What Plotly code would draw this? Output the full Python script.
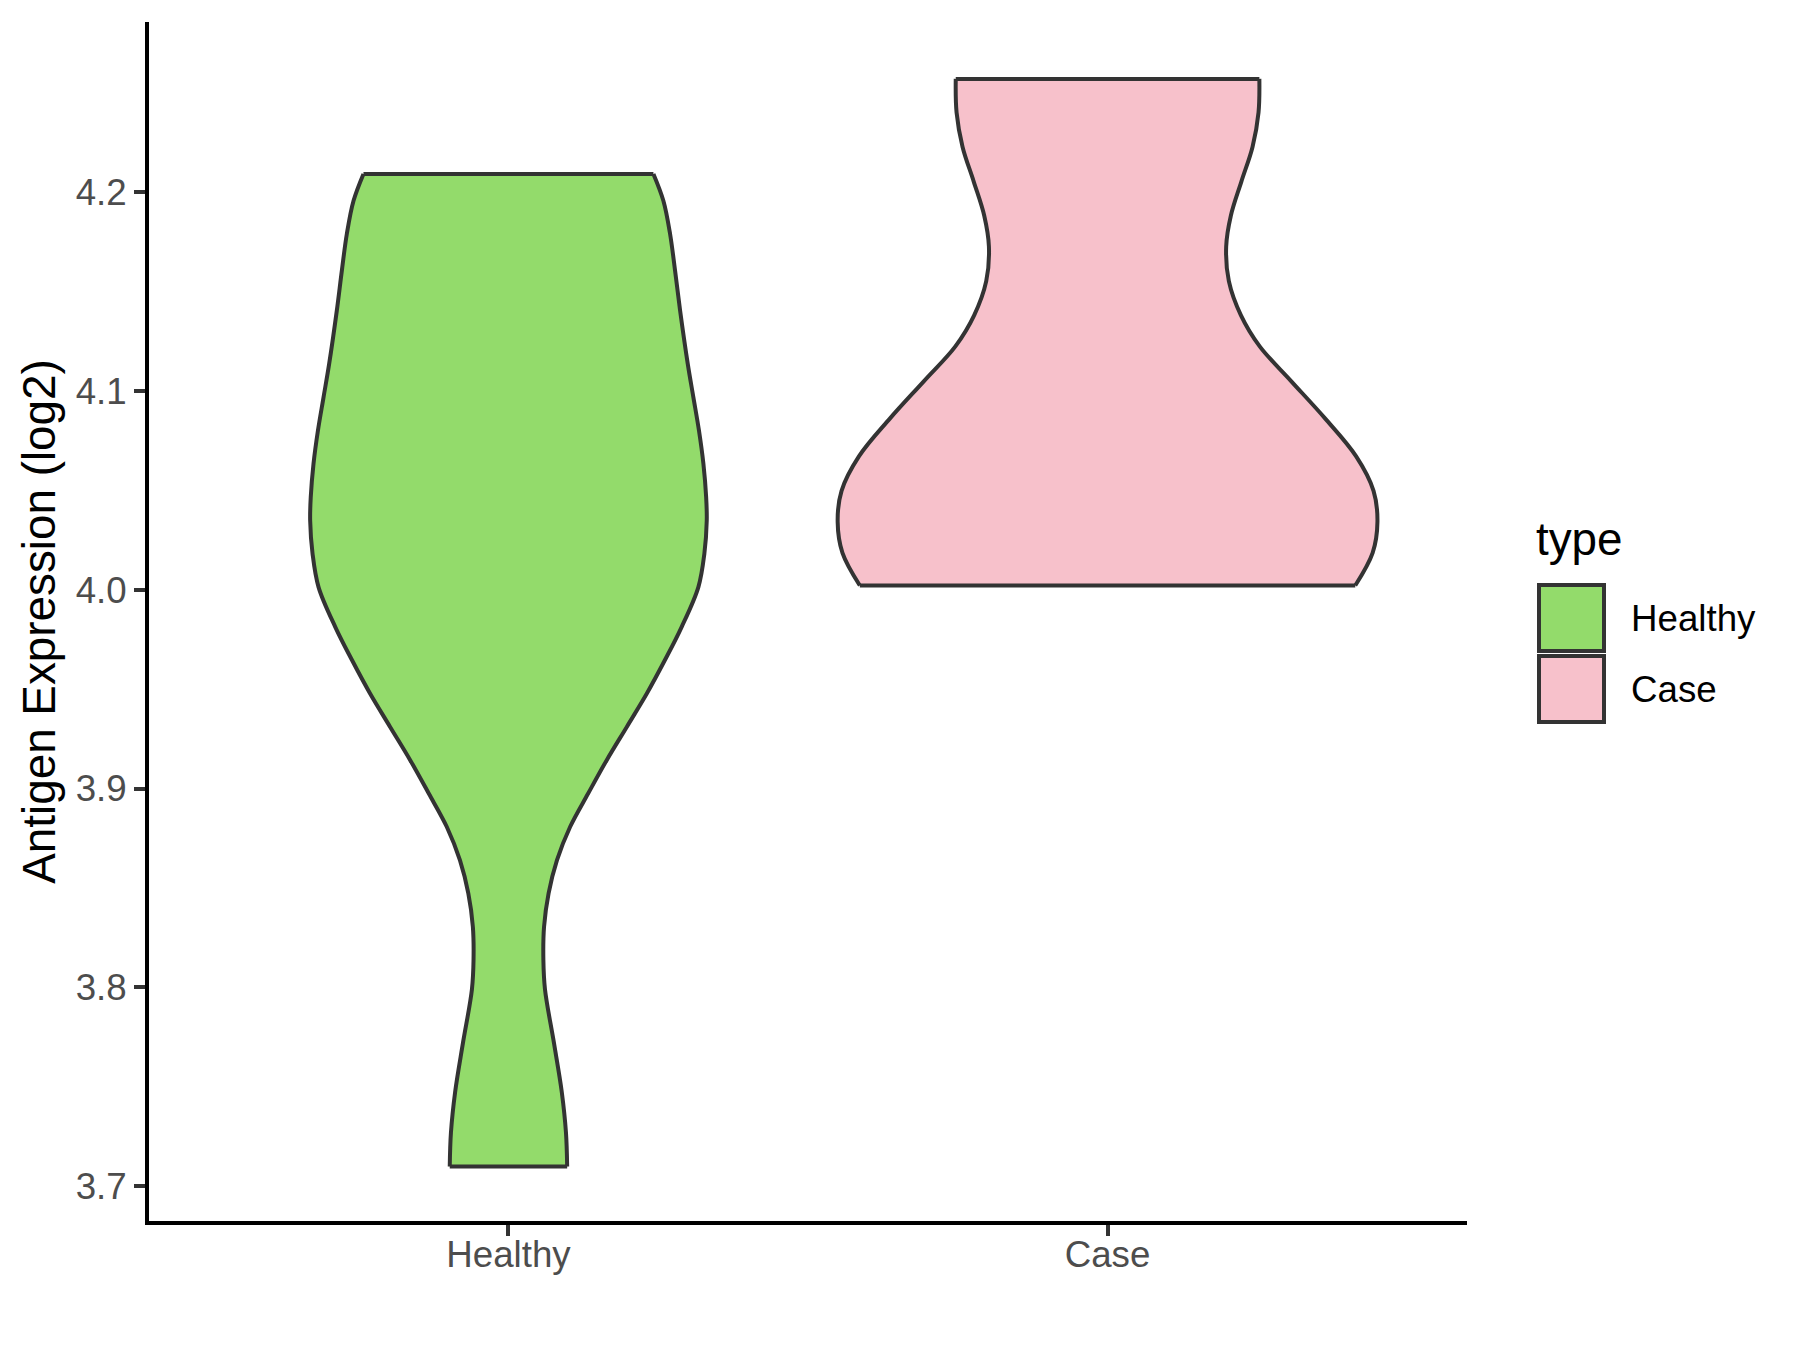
import plotly.graph_objects as go

# groups on the x axis
groups = ["Healthy", "Case"]
fills = ["#93DB6B", "#F7C1CB"]

# violin outline: expression level (log2) and half-width of the violin
healthy_expr = [4.209, 4.1955, 4.1788, 4.1604, 4.1403, 4.1135, 4.0967, 4.08, 4.0633,
                4.0465, 4.0348, 4.0181, 4.0013, 3.9812, 3.9645, 3.9478, 3.931, 3.9143, 3.8975,
                3.8808, 3.864, 3.8473, 3.8305, 3.8138, 3.799, 3.772, 3.7475, 3.727, 3.710]
healthy_halfwidth = [0.242, 0.2586, 0.2698, 0.2781, 0.2865, 0.2993, 0.3087, 0.318, 0.3254,
                     0.330, 0.331, 0.327, 0.317, 0.289, 0.261, 0.231, 0.1975, 0.164, 0.133,
                     0.103, 0.081, 0.067, 0.0594, 0.0583, 0.061, 0.076, 0.089, 0.096, 0.098]

case_expr = [4.2568, 4.2399, 4.2226, 4.2053, 4.188, 4.1724, 4.1551, 4.1379, 4.1223, 4.105,
             4.086, 4.067, 4.0497, 4.0341, 4.0185, 4.0021]
case_halfwidth = [0.2534, 0.252, 0.242, 0.2235, 0.2058, 0.198, 0.2025, 0.2227, 0.254, 0.306,
                  0.3634, 0.415, 0.444, 0.4505, 0.4425, 0.4135]

y_ticks = [3.7, 3.8, 3.9, 4.0, 4.1, 4.2]

W, H = 1800, 1350
# the page body adds an offset, so the margins are shifted to compensate
L, R, T, B = 141, 341, 14, 137
OUTLINE = "#333333"
FONT = "Liberation Sans, Arial, sans-serif"

# plot area in reference pixels (for the hand-drawn legend)
PA_LEFT, PA_W = 147, W - L - R
PA_BOTTOM, PA_H = 1221, H - T - B


def px_x(p):
    return (p - PA_LEFT) / PA_W


def px_y(p):
    return (PA_BOTTOM - p) / PA_H


fig = go.Figure()

for i, (expr, hw) in enumerate([(healthy_expr, healthy_halfwidth), (case_expr, case_halfwidth)]):
    c = i + 1
    left = [c - w for w in hw]
    right = [c + w for w in hw]
    fig.add_trace(go.Scatter(x=left, y=expr, mode="lines", line=dict(color=OUTLINE, width=4, shape="spline"),
                             showlegend=False, hoverinfo="skip"))
    fig.add_trace(go.Scatter(x=right, y=expr, mode="lines", fill="tonextx", fillcolor=fills[i],
                             line=dict(color=OUTLINE, width=4, shape="spline"),
                             name=groups[i], showlegend=False))
    # flat trimmed ends of the violin
    fig.add_trace(go.Scatter(x=[left[0], right[0], None, left[-1], right[-1]],
                             y=[expr[0], expr[0], None, expr[-1], expr[-1]],
                             mode="lines", line=dict(color=OUTLINE, width=4),
                             showlegend=False, hoverinfo="skip"))

fig.update_xaxes(range=[0.4, 2.6], tickvals=[1, 2], ticktext=groups,
                 showline=True, linecolor="black", linewidth=4, mirror=False,
                 ticks="outside", ticklen=11, tickwidth=4, tickcolor=OUTLINE,
                 tickfont=dict(size=36.7, color="#4D4D4D", family=FONT),
                 showgrid=False, zeroline=False, ticklabelstandoff=-13)
fig.update_yaxes(range=[3.6826, 4.2854], tickvals=y_ticks, ticktext=[f"{v:.1f}" for v in y_ticks],
                 showline=True, linecolor="black", linewidth=4,
                 ticks="outside", ticklen=11, tickwidth=4, tickcolor=OUTLINE,
                 tickfont=dict(size=36.7, color="#4D4D4D", family=FONT),
                 showgrid=False, zeroline=False, ticklabelstandoff=0,
                 title=dict(text="Antigen Expression (log2)", font=dict(size=45.8, color="black", family=FONT),
                            standoff=7))

# legend drawn by hand to get ggplot-sized keys
shapes = []
annotations = [dict(x=px_x(1532), y=px_y(539), xref="paper", yref="paper", text="type", showarrow=False,
                    xanchor="left", yanchor="middle", font=dict(size=45.8, color="black", family=FONT))]
key_tops = [585, 656]
for i, g in enumerate(groups):
    y0 = key_tops[i]
    shapes.append(dict(type="rect", xref="paper", yref="paper",
                       x0=px_x(1537), x1=px_x(1602), y0=px_y(y0 + 66), y1=px_y(y0),
                       fillcolor=fills[i], line=dict(color=OUTLINE, width=4)))
    annotations.append(dict(x=px_x(1627), y=px_y(y0 + 33), xref="paper", yref="paper", text=g,
                            showarrow=False, xanchor="left", yanchor="middle",
                            font=dict(size=36.7, color="black", family=FONT)))

fig.update_layout(width=W, height=H, margin=dict(l=L, r=R, t=T, b=B),
                  plot_bgcolor="white", paper_bgcolor="white",
                  shapes=shapes, annotations=annotations, showlegend=False)

fig.write_html("out.html")
